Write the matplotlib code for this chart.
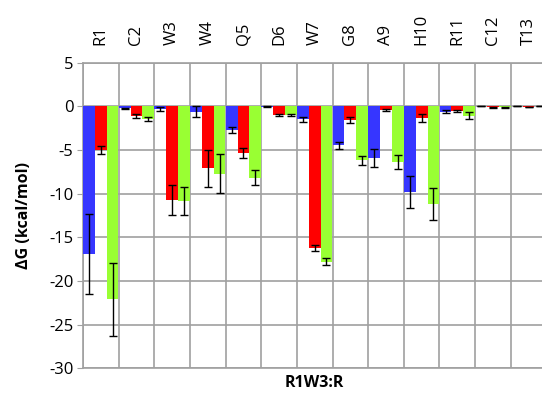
import numpy as np
import matplotlib
matplotlib.use('Agg')
import matplotlib.pyplot as plt

plt.rcParams['font.family'] = ['Open Sans', 'DejaVu Sans']
plt.rcParams['axes.unicode_minus'] = False

residues = ['R1', 'C2', 'W3', 'W4', 'Q5', 'D6', 'W7', 'G8', 'A9', 'H10', 'R11', 'C12', 'T13']

blue_val = [-16.9, -0.2, -0.3, -0.6, -2.7, -0.05, -1.5, -4.45, -5.9, -9.8, -0.6, 0.0, 0.0]
blue_err = [4.6, 0.05, 0.2, 0.6, 0.3, 0.05, 0.3, 0.4, 1.0, 1.8, 0.2, 0.0, 0.0]
red_val = [-5.0, -1.1, -10.7, -7.1, -5.35, -0.95, -16.2, -1.6, -0.45, -1.35, -0.5, -0.1, -0.05]
red_err = [0.5, 0.2, 1.7, 2.1, 0.6, 0.1, 0.35, 0.35, 0.1, 0.45, 0.1, 0.05, 0.0]
green_val = [-22.1, -1.45, -10.8, -7.7, -8.15, -0.95, -17.8, -6.2, -6.35, -11.2, -1.05, -0.1, 0.0]
green_err = [4.15, 0.25, 1.6, 2.2, 0.85, 0.1, 0.4, 0.55, 0.8, 1.8, 0.4, 0.05, 0.0]

fig = plt.figure(figsize=(5.42, 3.96), dpi=100)
ax = fig.add_axes([0.1531, 0.0699, 0.855, 0.7718])

x = np.arange(len(residues))
w = 0.33
ekw = dict(ecolor='black', elinewidth=1, capsize=3, capthick=1)
ax.bar(x - w, blue_val, w, yerr=blue_err, color='#3636ff', error_kw=ekw, zorder=3)
ax.bar(x, red_val, w, yerr=red_err, color='#ff0000', error_kw=ekw, zorder=3)
ax.bar(x + w, green_val, w, yerr=green_err, color='#99ff33', error_kw=ekw, zorder=3)

ax.set_xlim(-0.5, len(residues) - 0.5)
ax.set_ylim(-30, 5)
ax.set_yticks(np.arange(-30, 6, 5))

ax.xaxis.tick_top()
ax.set_xticks(x)
ax.set_xticklabels(residues, rotation=90, fontsize=12)
ax.set_xticks(np.arange(-0.5, len(residues), 1), minor=True)
ax.tick_params(axis='x', which='both', length=0, pad=13)
ax.tick_params(axis='y', length=4, color='#a0a0a0', labelsize=12, pad=3)

ax.grid(True, which='minor', axis='x', color='#a0a0a0', linewidth=1.2, zorder=0)
ax.grid(True, which='major', axis='y', color='#a0a0a0', linewidth=1.2, zorder=0)
for s in ax.spines.values():
    s.set_color('#a0a0a0')
    s.set_linewidth(1.2)

ax.set_ylabel('ΔG (kcal/mol)', fontweight='bold', fontsize=11.5, labelpad=12)
ax.set_xlabel('R1W3:R', fontweight='bold', fontsize=11.5, labelpad=5)
ax.xaxis.set_label_position('bottom')

fig.savefig('out.png', dpi=100)
